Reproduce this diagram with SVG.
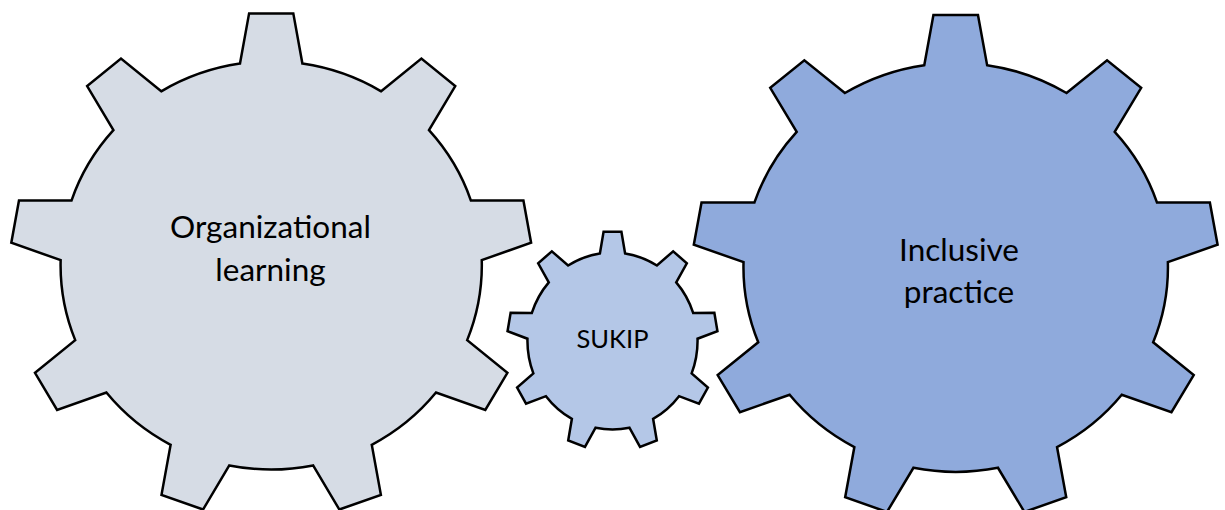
<svg xmlns="http://www.w3.org/2000/svg" xmlns:xlink="http://www.w3.org/1999/xlink" width="1225" height="510" viewBox="0 0 1225 510">
  <style>
    .gear-shape { stroke: #000; stroke-width: 2.5; stroke-linejoin: miter; }
    .gear-light { fill: #D6DCE5; }
    .gear-mid { fill: #B4C7E7; }
    .gear-dark { fill: #8FAADC; }
    .label { font-family: Lato, "Open Sans", "Liberation Sans", sans-serif; fill: #000; text-anchor: middle; }
    .label-big { font-size: 31.5px; }
    .label-small { font-size: 25.5px; }
  </style>
  <defs>
    <!-- Nine-tooth gear on a unit circle: tooth tips at r=1, body circle r=0.81 -->
    <path id="gear9" vector-effect="non-scaling-stroke" d="M -0.1200 -0.8011 L -0.0850 -1 L 0.0850 -1 L 0.1200 -0.8011
      A 0.81 0.81 0 0 1 0.4230 -0.6908 L 0.5777 -0.8207 L 0.7079 -0.7114 L 0.6069 -0.5366
      A 0.81 0.81 0 0 1 0.7681 -0.2573 L 0.9701 -0.2574 L 0.9996 -0.0899 L 0.8098 -0.0209
      A 0.81 0.81 0 0 1 0.7538 0.2966 L 0.9085 0.4264 L 0.8235 0.5736 L 0.6338 0.5045
      A 0.81 0.81 0 0 1 0.3868 0.7118 L 0.4219 0.9106 L 0.2622 0.9688 L 0.1612 0.7938
      A 0.81 0.81 0 0 1 -0.1612 0.7938 L -0.2622 0.9688 L -0.4219 0.9106 L -0.3868 0.7118
      A 0.81 0.81 0 0 1 -0.6338 0.5045 L -0.8235 0.5736 L -0.9085 0.4264 L -0.7538 0.2966
      A 0.81 0.81 0 0 1 -0.8098 -0.0209 L -0.9996 -0.0899 L -0.9701 -0.2574 L -0.7681 -0.2573
      A 0.81 0.81 0 0 1 -0.6069 -0.5366 L -0.7079 -0.7114 L -0.5777 -0.8207 L -0.4230 -0.6908
      A 0.81 0.81 0 0 1 -0.1200 -0.8011 Z"/>
  </defs>

  <g id="gear-organizational-learning">
    <use href="#gear9" xlink:href="#gear9" class="gear-shape gear-light" transform="translate(271.2 265.4) scale(260 252)"/>
    <text class="label label-big" x="270.5" y="238.3">Organizational</text>
    <text class="label label-big" x="270.5" y="281">learning</text>
  </g>

  <g id="gear-sukip">
    <use href="#gear9" xlink:href="#gear9" class="gear-shape gear-mid" transform="translate(612.5 341) scale(105 109.3)"/>
    <text class="label label-small" x="612.5" y="348.3">SUKIP</text>
  </g>

  <g id="gear-inclusive-practice">
    <use href="#gear9" xlink:href="#gear9" class="gear-shape gear-dark" transform="translate(955.7 267.4) scale(262 252.4)"/>
    <text class="label label-big" x="959" y="260.7">Inclusive</text>
    <text class="label label-big" x="959" y="303">practice</text>
  </g>
</svg>
